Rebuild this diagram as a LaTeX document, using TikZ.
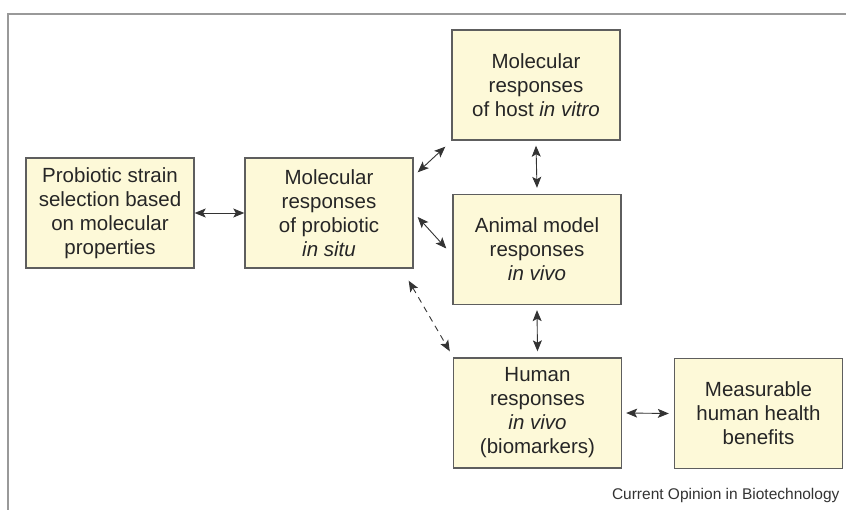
\documentclass[tikz,border=0pt]{standalone}
\usepackage{fontspec}
\setmainfont{Liberation Sans}
\usetikzlibrary{arrows.meta}
\definecolor{boxfill}{HTML}{FDF9D8}
\definecolor{boxline}{HTML}{5E5E5E}

\begin{document}
\begin{tikzpicture}[x=1pt,y=-1pt,
  box/.style={draw=boxline, line width=1.4pt, fill=boxfill, minimum width=168pt,
    minimum height=110pt, align=center, text=black!85, inner sep=2pt,
    font=\fontsize{20.5}{24}\selectfont},
  link/.style={black!80, line width=0.9pt,
    {Stealth[length=11pt,width=9pt,inset=2.5pt]}-{Stealth[length=11pt,width=9pt,inset=2.5pt]}},
  dashlink/.style={link, dash pattern=on 6pt off 5pt}]
\useasboundingbox (0,0) rectangle (846,510);
% frame
\draw[gray!80, line width=2pt] (8,510) -- (8,14) -- (846,14);

% boxes
\node[box] (strain)   at (110,213)   {Probiotic strain\\selection based\\on molecular\\properties};
\node[box] (insitu)   at (329,213)   {Molecular\\responses\\of probiotic\\\textit{in situ}};
\node[box] (invitro)  at (536,85)    {Molecular\\responses\\of host \textit{in vitro}};
\node[box] (animal)   at (537,249.5) {Animal model\\responses\\\textit{in vivo}};
\node[box] (human)    at (537.5,413) {Human\\responses\\\textit{in vivo}\\(biomarkers)};
\node[box] (benefits) at (758.5,413.5) {Measurable\\human health\\benefits};

% connectors
\draw[link] (strain) -- (insitu);
\draw[link] ([xshift=4pt,yshift=-15pt]insitu.north east) -- ([xshift=-6pt,yshift=-6pt]invitro.south west);
\draw[link] ([xshift=4pt,yshift=-4pt]insitu.east) -- ([xshift=-6pt,yshift=1pt]animal.west);
\draw[dashlink] ([xshift=-5pt,yshift=-12pt]insitu.south east) -- ([xshift=-3pt,yshift=6pt]human.north west);
\draw[link] ([yshift=-5pt]invitro.south) -- ([yshift=6pt]animal.north);
\draw[link] ([yshift=-5pt]animal.south) -- ([yshift=6pt]human.north);
\draw[link] ([xshift=4pt]human.east) -- ([xshift=-5pt]benefits.west);

\node[anchor=base east, text=black!80, font=\fontsize{15.5}{18}\selectfont] (source) at (843,499) {Current Opinion in Biotechnology};
\end{tikzpicture}
\end{document}
